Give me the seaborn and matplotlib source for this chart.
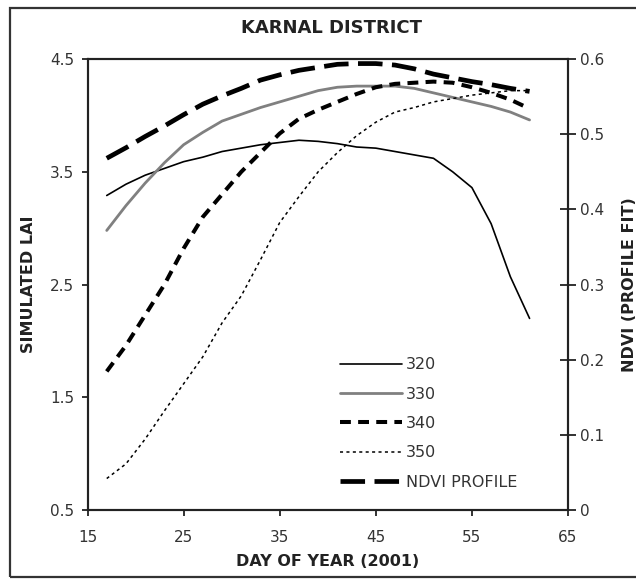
import matplotlib
matplotlib.use("Agg")
import matplotlib.pyplot as plt
from matplotlib.patches import Rectangle
import seaborn as sns
import pandas as pd

# Day of year (2001)
days = [17, 19, 21, 23, 25, 27, 29, 31, 33, 35, 37, 39, 41, 43, 45, 47, 49, 51, 53, 55, 57, 59, 61]

# Simulated LAI for each sowing/planting scenario
lai_320 = [3.29, 3.39, 3.47, 3.53, 3.59, 3.63, 3.68, 3.71, 3.74, 3.76, 3.78, 3.77, 3.75, 3.72,
           3.71, 3.68, 3.65, 3.62, 3.50, 3.36, 3.04, 2.57, 2.20]
lai_330 = [2.98, 3.20, 3.40, 3.58, 3.74, 3.85, 3.95, 4.01, 4.07, 4.12, 4.17, 4.22, 4.25, 4.26,
           4.26, 4.26, 4.24, 4.20, 4.16, 4.12, 4.08, 4.03, 3.96]
lai_340 = [1.73, 1.96, 2.23, 2.50, 2.82, 3.10, 3.30, 3.50, 3.67, 3.84, 3.97, 4.05, 4.12, 4.19,
           4.25, 4.28, 4.29, 4.30, 4.29, 4.25, 4.20, 4.14, 4.06]
lai_350 = [0.78, 0.91, 1.13, 1.38, 1.62, 1.86, 2.16, 2.40, 2.72, 3.05, 3.28, 3.50, 3.67, 3.82,
           3.94, 4.03, 4.07, 4.12, 4.15, 4.18, 4.20, 4.22, 4.22]

# NDVI profile fit (right axis)
ndvi = [0.468, 0.482, 0.497, 0.511, 0.526, 0.540, 0.551, 0.561, 0.572, 0.579, 0.585, 0.589,
        0.593, 0.594, 0.594, 0.592, 0.587, 0.580, 0.575, 0.570, 0.566, 0.561, 0.557]

series_labels = ["320", "330", "340", "350"]
x_ticks = [15, 25, 35, 45, 55, 65]
lai_ticks = [0.5, 1.5, 2.5, 3.5, 4.5]
ndvi_ticks = [0, 0.1, 0.2, 0.3, 0.4, 0.5, 0.6]
ndvi_tick_labels = ["0", "0.1", "0.2", "0.3", "0.4", "0.5", "0.6"]

sns.set_style("ticks")
plt.rcParams["font.family"] = ["DejaVu Sans"]
plt.rcParams["font.size"] = 11

fig = plt.figure(figsize=(6.36, 5.79), dpi=100)
# outer frame around the panel
fig.patches.append(Rectangle((0.0157, 0.0035), 1.0, 0.982, transform=fig.transFigure,
                             fill=False, edgecolor="#333333", linewidth=1.6, zorder=0))

ax = fig.add_axes([0.1376, 0.119, 0.7555, 0.779])
ax2 = ax.twinx()

df = pd.DataFrame({"day": days, "320": lai_320, "330": lai_330, "340": lai_340, "350": lai_350})

styles = {
    "320": dict(color="black", linewidth=1.2, linestyle="-"),
    "330": dict(color="#808080", linewidth=2.0, linestyle="-"),
    "340": dict(color="black", linewidth=2.9, linestyle=(0, (2.7, 1.8))),
    "350": dict(color="black", linewidth=1.1, linestyle=(0, (2.0, 2.2))),
}

handles = []
for name in series_labels:
    sns.lineplot(data=df, x="day", y=name, ax=ax, label=name, legend=False, **styles[name])
    handles.append(ax.lines[-1])

ndf = pd.DataFrame({"day": days, "ndvi": ndvi})
sns.lineplot(data=ndf, x="day", y="ndvi", ax=ax2, color="black", linewidth=3.4,
             linestyle=(0, (5.2, 2.0)), legend=False)
handles.append(ax2.lines[-1])

ax.set_xlim(15, 65)
ax.set_ylim(0.5, 4.5)
ax2.set_ylim(0, 0.6)
ax.set_xticks(x_ticks)
ax.set_yticks(lai_ticks)
ax.set_yticklabels([f"{v:.1f}" for v in lai_ticks])
ax2.set_yticks(ndvi_ticks)
ax2.set_yticklabels(ndvi_tick_labels)

for a in (ax, ax2):
    for s in a.spines.values():
        s.set_visible(True)
        s.set_linewidth(1.5)
        s.set_color("#222222")

ax.tick_params(axis="x", direction="out", length=4.5, width=1.3, labelsize=11,
               colors="#222222", labelcolor="#333333", pad=10)
ax.tick_params(axis="y", direction="out", length=4.5, width=1.3, labelsize=11,
               colors="#222222", labelcolor="#333333", pad=5)
ax2.tick_params(axis="y", direction="inout", length=11, width=1.3, labelsize=11,
                colors="#222222", labelcolor="#333333", pad=3)

ax.set_xlabel("DAY OF YEAR (2001)", fontweight="bold", fontsize=11.5, labelpad=6,
              color="#222222")
ax.set_ylabel("SIMULATED LAI", fontweight="bold", fontsize=11.5, labelpad=10,
              color="#222222")
ax2.set_ylabel("NDVI (PROFILE FIT)", fontweight="bold", fontsize=11.5, labelpad=13,
               rotation=90, color="#222222")
fig.text(0.522, 1 - 28 / 579, "KARNAL DISTRICT", fontweight="bold", fontsize=13,
         ha="center", va="center", color="#222222")

labels = series_labels + ["NDVI PROFILE"]
leg = ax.legend(handles, labels, loc="lower left", bbox_to_anchor=(0.525, 0.045),
                borderaxespad=0, borderpad=0, frameon=False, handlelength=3.9,
                handletextpad=0.25, labelspacing=0.9, fontsize=11.5)
for t in leg.get_texts():
    t.set_color("#333333")

fig.savefig("out.png", dpi=100)
